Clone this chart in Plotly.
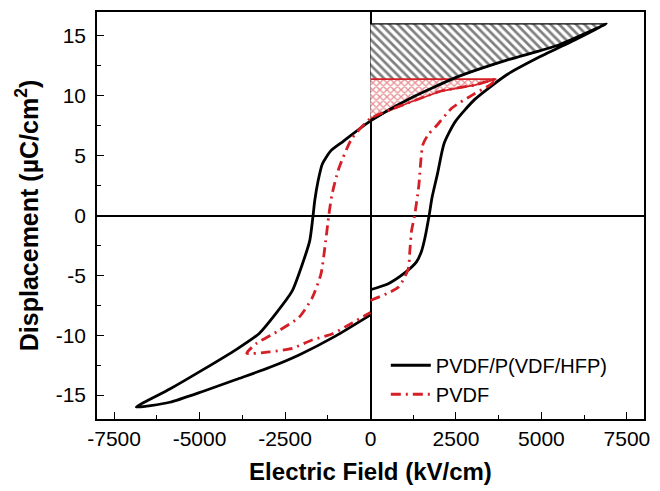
import plotly.graph_objects as go

# PVDF/P(VDF/HFP) loop (black), three branches
blk_rise_x = [0, 520, 1000, 1340, 1490, 1590, 1715, 1800, 1960, 2150, 2470, 3050, 4010, 4980, 5960, 6900]
blk_rise_y = [-6.2, -5.7, -4.8, -3.9, -3.0, -1.9, 0.0, 1.5, 3.5, 6.0, 7.8, 9.7, 11.8, 13.3, 14.65, 16.0]
blk_desc_x = [6900, 5465, 4010, 2560, 1100, 0, -797, -1164, -1409, -1532, -1630, -1680, -1777, -2022, -2290, -2770, -3255, -3930, -4910, -5870, -6850]
blk_desc_y = [16.0, 14.2, 13.0, 11.6, 9.7, 7.9, 6.2, 5.4, 4.3, 2.9, 1.25, 0.0, -2.1, -4.3, -6.3, -8.2, -9.85, -11.2, -12.9, -14.5, -16.0]
blk_ret_x = [-6850, -5870, -4910, -3930, -2960, -2090, -1040, 0]
blk_ret_y = [-16.0, -15.6, -14.7, -13.7, -12.7, -11.65, -10.1, -8.3]

# PVDF loop (red)
red_rise_x = [0, 810, 1100, 1150, 1200, 1290, 1410, 1530, 1700, 1900, 2390, 3000, 3490, 3680]
red_rise_y = [-7.1, -6.0, -4.5, -3.0, -1.3, 0.0, 2.4, 5.9, 6.8, 7.4, 9.0, 10.1, 10.9, 11.4]
red_desc_x = [3680, 3050, 2070, 1100, 0, -550, -930, -1130, -1220, -1310, -1450, -1710, -2090, -2670, -3340, -3620]
red_desc_y = [11.4, 10.9, 10.4, 9.4, 8.1, 6.4, 3.9, 1.7, 0.0, -2.1, -4.9, -6.9, -8.5, -9.6, -10.7, -11.5]
red_ret_x = [-3620, -2960, -2290, -1710, -1130, -550, 0]
red_ret_y = [-11.5, -11.4, -11.1, -10.4, -9.9, -9.0, -8.1]

x_ticks = [-7500, -5000, -2500, 0, 2500, 5000, 7500]
y_ticks = [-15, -10, -5, 0, 5, 10, 15]

RED = "#d41f26"
FONT = "Liberation Sans, Arial, sans-serif"

fig = go.Figure()

# hatched energy-density regions
bx = [0] + [x for x in blk_desc_x if x >= 0]
by = [blk_desc_y[0]] + [y for x, y in zip(blk_desc_x, blk_desc_y) if x >= 0]
fig.add_trace(go.Scatter(
    x=bx, y=by, mode="lines", fill="toself", showlegend=False, hoverinfo="skip",
    line=dict(color="black", width=1.2),
    fillcolor="rgba(0,0,0,0)",
    fillpattern=dict(shape="\\", fgcolor="black", bgcolor="white", size=6, solidity=0.45),
))
rx = [0] + [x for x in red_desc_x if x >= 0]
ry = [red_desc_y[0]] + [y for x, y in zip(red_desc_x, red_desc_y) if x >= 0]
fig.add_trace(go.Scatter(
    x=rx, y=ry, mode="lines", fill="toself", showlegend=False, hoverinfo="skip",
    line=dict(color=RED, width=1.8),
    fillcolor="rgba(0,0,0,0)",
    fillpattern=dict(shape="x", fgcolor=RED, bgcolor="white", size=5, solidity=0.45),
))

fig.add_trace(go.Scatter(
    x=blk_rise_x + blk_desc_x[1:] + blk_ret_x[1:],
    y=blk_rise_y + blk_desc_y[1:] + blk_ret_y[1:],
    mode="lines", name="PVDF/P(VDF/HFP)",
    line=dict(color="black", width=2.8, shape="spline", smoothing=0.6),
))
fig.add_trace(go.Scatter(
    x=red_rise_x + red_desc_x[1:] + red_ret_x[1:],
    y=red_rise_y + red_desc_y[1:] + red_ret_y[1:],
    mode="lines", name="PVDF",
    line=dict(color=RED, width=2.8, dash="10px,5px,2px,5px", shape="spline", smoothing=0.6),
))

axis_common = dict(
    showgrid=False, showline=True, linecolor="black", linewidth=1.5, mirror=True,
    ticks="inside", ticklen=7, tickwidth=1.2, tickcolor="black",
    minor=dict(ticks="inside", ticklen=4, tickwidth=1, tickcolor="black"),
    zeroline=True, zerolinecolor="black", zerolinewidth=1.5,
    tickfont=dict(family=FONT, size=21, color="black"),
)

fig.update_layout(
    width=660, height=491,
    margin=dict(l=97, r=14, t=10, b=69),
    paper_bgcolor="white", plot_bgcolor="white",
    xaxis=dict(
        range=[-8000, 8000], tickvals=x_ticks, ticktext=[str(v) for v in x_ticks],
        minor_tickvals=[-6250, -3750, -1250, 1250, 3750, 6250],
        title=dict(text="Electric Field (kV/cm)", standoff=14,
                   font=dict(family=FONT, size=24, color="black", weight="bold")),
        **axis_common,
    ),
    yaxis=dict(
        range=[-17, 17], tickvals=y_ticks, ticktext=[str(v) for v in y_ticks],
        minor_tickvals=[-12.5, -7.5, -2.5, 2.5, 7.5, 12.5],
        ticklabelstandoff=5,
        title=dict(text="Displacement (µC/cm<sup>2</sup>)", standoff=10,
                   font=dict(family=FONT, size=25, color="black", weight="bold")),
        **axis_common,
    ),
    legend=dict(
        x=0.528, y=0.18, xanchor="left", yanchor="top",
        bgcolor="rgba(0,0,0,0)", font=dict(family=FONT, size=20, color="black"),
        tracegroupgap=0, itemwidth=40,
    ),
    showlegend=True,
)

fig.write_html("out.html")
